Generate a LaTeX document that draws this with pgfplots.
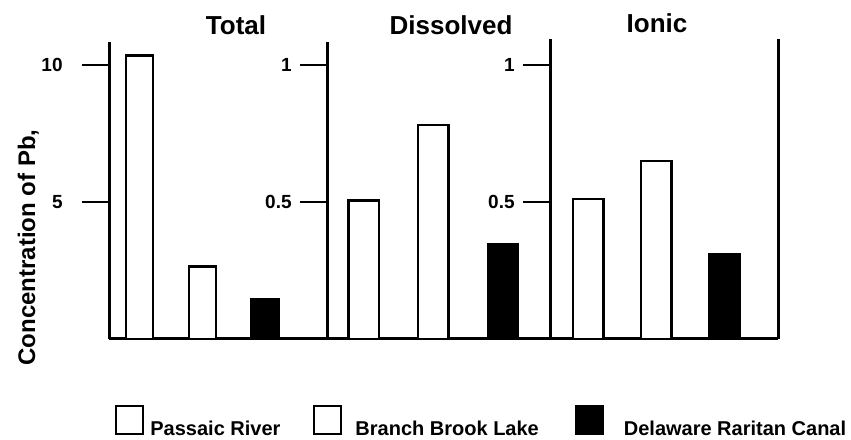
\documentclass[border=0pt]{standalone}
\usepackage{fontspec}
\setmainfont{Liberation Sans}
\usepackage{pgfplots}
\pgfplotsset{compat=1.18}
\begin{document}
\begin{tikzpicture}
\path (0,0) rectangle (425.5pt,219.5pt);
\pgfplotsset{
  panel/.style={
    scale only axis,
    anchor=south west,
    axis x line=bottom,
    axis y line=left,
    x axis line style={-},
    y axis line style={-},
    axis line style={line width=1.5pt, black},
    xtick=\empty,
    ytick pos=left,
    ytick align=outside,
    major tick length=13.5pt,
    tick style={line width=1pt, black},
    enlargelimits=false,
    clip=false,
    ymin=0,
    /pgf/number format/assume math mode=true,
    yticklabel style={font=\bfseries\fontsize{9.5}{11}\selectfont, inner sep=0pt},
  },
  lbox/.style={legend image code/.code={\draw[##1, line width=1pt] (0pt,0pt) rectangle (13.5pt,14pt);}},
  white bar/.style={ybar, bar shift=0pt, draw=black, fill=white, line width=1.2pt},
  black bar/.style={ybar, bar shift=0pt, draw=black, fill=black, line width=1.2pt},
}
% Panel 1: Total
\begin{axis}[panel, at={(54.5pt,50pt)}, width=109pt, height=148.5pt,
  xmin=0.5139, xmax=3.988, ymax=10.84, ytick={5,10}, yticklabels={5,10},
  yticklabel style={xshift=-9.5pt},
  bar width=13.5pt,
  legend columns=3,
  legend cell align=left,
  legend style={at={(0.0275,-0.2222)}, anchor=north west, draw=none, fill=none, inner sep=0pt,
    font=\bfseries\fontsize{10}{12}\selectfont,
    nodes={inner sep=0pt, text depth=0pt, text height=1pt},
    /tikz/column 1/.style={column sep=3pt},
    /tikz/column 2/.style={column sep=16.5pt},
    /tikz/column 3/.style={column sep=6.5pt},
    /tikz/column 4/.style={column sep=18pt},
    /tikz/column 5/.style={column sep=10pt}},
]
\addplot[white bar, lbox] coordinates {(1,10.35)};
\addlegendentry{Passaic River}
\addplot[white bar, lbox] coordinates {(2,2.65)};
\addlegendentry{Branch Brook Lake}
\addplot[black bar, lbox] coordinates {(3,1.45)};
\addlegendentry{Delaware Raritan Canal}
\end{axis}
% Panel 2: Dissolved
\begin{axis}[panel, at={(163.5pt,50pt)}, width=111.5pt, height=148.5pt,
  xmin=0.4767, xmax=3.6738, ymax=1.084, ytick={0.5,1}, yticklabels={0.5,1},
  yticklabel style={xshift=-4pt},
  bar width=15.2pt]
\addplot[white bar] coordinates {(1,0.505)};
\addplot[white bar] coordinates {(2,0.78)};
\addplot[black bar] coordinates {(3,0.345)};
\end{axis}
% Panel 3: Ionic
\begin{axis}[panel, at={(275pt,50pt)}, width=114pt, height=150pt,
  xmin=0.4412, xmax=3.7941, ymax=1.095, ytick={0.5,1}, yticklabels={0.5,1},
  yticklabel style={xshift=-4pt},
  bar width=15.3pt]
\addplot[white bar] coordinates {(1,0.51)};
\addplot[white bar] coordinates {(2,0.65)};
\addplot[black bar] coordinates {(3,0.31)};
\draw[line width=1.5pt] (rel axis cs:1,0) -- (rel axis cs:1,1);
\end{axis}
\node[anchor=base, font=\bfseries\fontsize{13}{15}\selectfont] at (118pt,202pt) {Total};
\node[anchor=base, font=\bfseries\fontsize{13}{15}\selectfont] at (225.5pt,202pt) {Dissolved};
\node[anchor=base, font=\bfseries\fontsize{13}{15}\selectfont] at (328.5pt,203pt) {Ionic};
\node[anchor=base, rotate=90, font=\bfseries\fontsize{12}{14}\selectfont] at (17.5pt,95.75pt) {Concentration of Pb,};
\end{tikzpicture}
\end{document}
